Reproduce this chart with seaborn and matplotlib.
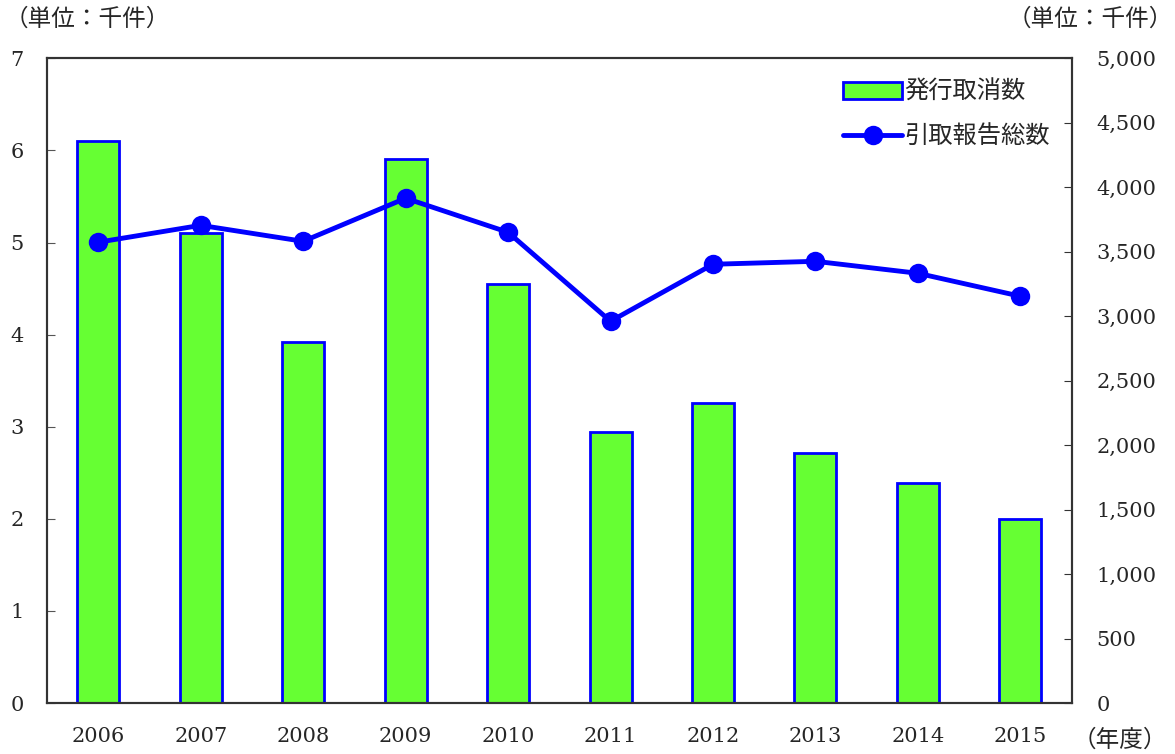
import matplotlib
matplotlib.use("Agg")
import matplotlib.pyplot as plt
import seaborn as sns
import pandas as pd
import numpy as np
from matplotlib.lines import Line2D
from matplotlib.patches import Patch

years = ['2006', '2007', '2008', '2009', '2010', '2011', '2012', '2013', '2014', '2015']
cancel_counts = [6.10, 5.10, 3.92, 5.91, 4.55, 2.94, 3.26, 2.72, 2.39, 2.00]
report_totals = [3574, 3705, 3581, 3915, 3651, 2961, 3403, 3426, 3333, 3155]
left_ticks = [0, 1, 2, 3, 4, 5, 6, 7]
right_ticks = [0, 500, 1000, 1500, 2000, 2500, 3000, 3500, 4000, 4500, 5000]

df = pd.DataFrame({'year': years, 'cancel': cancel_counts, 'report': report_totals})
df['pos'] = np.arange(len(df))

sns.set_style('white')
jp = ['Noto Sans CJK JP', 'DejaVu Sans']
num_font = 'DejaVu Serif'

fig = plt.figure(figsize=(11.75, 7.54), dpi=100)
ax = fig.add_axes([0.040, 0.0676, 0.872, 0.855])
sns.barplot(data=df, x='year', y='cancel', ax=ax, color='#66FF33', width=0.41,
            edgecolor='#0000FF', linewidth=2, saturation=1)
ax.set_xlim(-0.5, len(years) - 0.5)
ax.set_ylim(0, 7)
ax.set_yticks(left_ticks)
ax.set_xlabel('')
ax.set_ylabel('')

ax2 = ax.twinx()
sns.lineplot(data=df, x='pos', y='report', ax=ax2, color='#0000FF', linewidth=3.5,
             marker='o', markersize=14, markeredgewidth=0)
ax2.set_ylim(0, 5000)
ax2.set_yticks(right_ticks)
ax2.set_yticklabels([f'{v:,}' for v in right_ticks])
ax2.set_xlabel('')
ax2.set_ylabel('')
ax2.set_xlim(-0.5, len(years) - 0.5)

ax.set_xticks(range(len(years)))
ax.set_xticklabels(years)
ax.set_xticks(np.arange(0.5, len(years) - 0.5, 1), minor=True)
ax.tick_params(axis='x', which='major', length=0, pad=17)
ax.tick_params(axis='x', which='minor', length=6, direction='in', color='#555555')
ax.tick_params(axis='y', length=6, direction='in', color='#555555', pad=18)
ax2.tick_params(axis='y', length=6, direction='in', color='#333333', pad=18)

for a in (ax, ax2):
    for s in a.spines.values():
        s.set_color('#333333')
        s.set_linewidth(1.5)
    for lab in a.get_xticklabels() + a.get_yticklabels():
        lab.set_fontfamily(num_font)
        lab.set_fontsize(15)
for lab in ax.get_yticklabels():
    lab.set_horizontalalignment('center')
for lab in ax.get_yticklabels():
    lab.set_x(-0.005)

handles = [Patch(facecolor='#66FF33', edgecolor='#0000FF', linewidth=2),
           Line2D([0], [0], color='#0000FF', linewidth=3.5, marker='o', markersize=14,
                  markeredgewidth=0)]
ax2.legend(handles, ['発行取消数', '引取報告総数'], loc='upper right',
           bbox_to_anchor=(1.0, 1.002), frameon=False, prop={'family': jp, 'size': 17.5},
           handlelength=2.4, handletextpad=0.1, labelspacing=0.75)

fig.text(0.004, 0.975, '（単位：千件）', family=jp, fontsize=17, ha='left', va='center')
fig.text(0.998, 0.975, '（単位：千件）', family=jp, fontsize=17, ha='right', va='center')
fig.text(0.993, 0.018, '（年度）', family=jp, fontsize=17, ha='right', va='center')

fig.savefig('out.png', dpi=100)
